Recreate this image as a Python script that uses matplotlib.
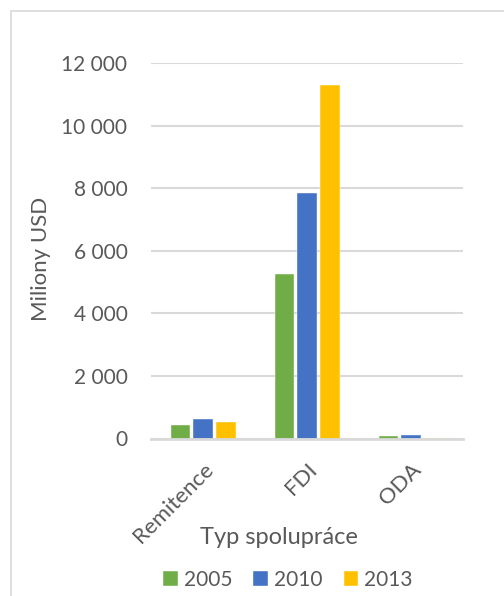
#!/usr/bin/env python3
"""Bar chart: remittances, FDI and ODA (million USD) for 2005, 2010 and 2013."""

import numpy as np
import matplotlib
matplotlib.use('Agg')
import matplotlib.pyplot as plt
from matplotlib.patches import Rectangle
from matplotlib.ticker import FuncFormatter, MultipleLocator

categories = ['Remitence', 'FDI', 'ODA']
years = ['2005', '2010', '2013']
values_2005 = [420, 5260, 80]
values_2010 = [630, 7850, 110]
values_2013 = [525, 11300, 15]

COLORS = ['#70AD47', '#4472C4', '#FFC000']
TEXT = '#595959'
GRID = '#D9D9D9'

plt.rcParams['font.family'] = ['Lato', 'DejaVu Sans']


def thousands(v, pos):
    return f"{int(v):,}".replace(',', '\u00a0')


def main():
    fig = plt.figure(figsize=(5.04, 5.96), dpi=100)
    W, H = 504, 596

    # chart area frame (only left/top edges visible)
    fig.patches.append(Rectangle((10.5 / W, -0.1), 1.2, (H - 11) / H + 0.1,
                                 transform=fig.transFigure, fill=False,
                                 edgecolor=GRID, linewidth=1.2))

    ax = fig.add_axes([151 / W, (H - 438.5) / H, 312 / W, 375.5 / H])

    x = np.arange(len(categories))
    width = 0.183
    step = 0.221
    series = [values_2005, values_2010, values_2013]
    for i, (vals, year) in enumerate(zip(series, years)):
        ax.bar(x + (i - 1) * step, vals, width, color=COLORS[i], label=year,
               edgecolor='white', linewidth=0.3, zorder=3)

    ax.set_xlim(-0.5, 2.5)
    ax.set_ylim(0, 12000)
    ax.yaxis.set_major_locator(MultipleLocator(2000))
    ax.yaxis.set_major_formatter(FuncFormatter(thousands))
    ax.grid(axis='y', color=GRID, linewidth=1.5, zorder=0)
    ax.set_axisbelow(True)

    for side in ['top', 'right', 'left']:
        ax.spines[side].set_visible(False)
    ax.spines['bottom'].set_color(GRID)
    ax.spines['bottom'].set_linewidth(2)
    ax.spines['bottom'].set_zorder(4)

    ax.tick_params(axis='y', length=0, pad=17, labelsize=15, labelcolor=TEXT)
    ax.tick_params(axis='x', length=0, pad=15, labelsize=16, labelcolor=TEXT)
    ax.set_xticks(x)
    ax.set_xticklabels(categories, rotation=45, ha='right', va='top',
                       rotation_mode='anchor')

    fig.text(41 / W, 1 - 259 / H, 'Miliony USD', rotation=90, ha='center',
             va='center', fontsize=16, color=TEXT)
    fig.text(279 / W, 1 - 537 / H, 'Typ spolupráce', ha='center', va='center',
             fontsize=17, color=TEXT)

    fig.legend(loc='center', bbox_to_anchor=(288 / W, 1 - 580 / H), ncol=3,
               frameon=False, fontsize=15, labelcolor=TEXT,
               handlelength=0.7, handleheight=0.7, handletextpad=0.3,
               columnspacing=1.0, borderpad=0)

    fig.savefig('out.png', dpi=100)
    plt.close(fig)


if __name__ == '__main__':
    main()
